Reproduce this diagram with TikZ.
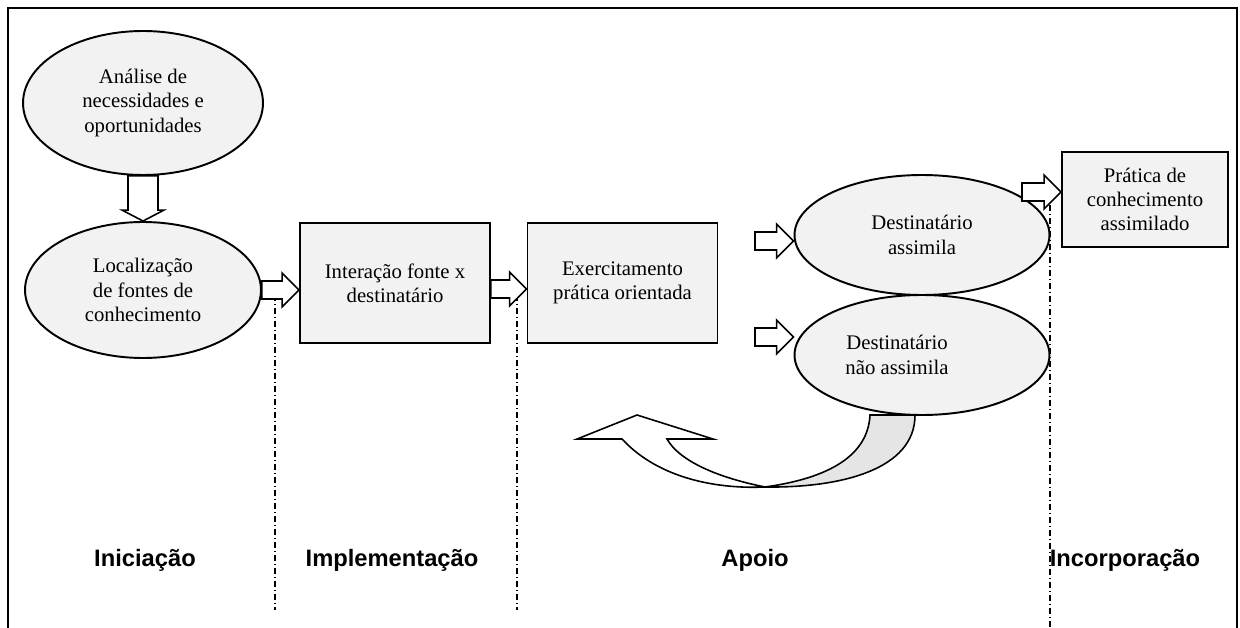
\documentclass[tikz,border=0pt]{standalone}
\usepackage{fontspec}
\setmainfont{Liberation Serif}
\newfontfamily\faseFont{Liberation Sans}
\usetikzlibrary{shapes.geometric,calc}

\begin{document}
\begin{tikzpicture}[x=0.02cm,y=-0.02cm,
    % estilos dos nos
    EllNode/.style={ellipse,draw=black,fill=gray!10,line width=1.1pt,minimum width=5.1cm,minimum height=2.4cm,inner sep=0pt,align=center,font=\fontsize{11.8}{13.8}\selectfont},
    BoxNode/.style={rectangle,draw=black,fill=gray!10,line width=1.1pt,minimum width=3.8cm,minimum height=2.4cm,inner sep=0pt,align=center,font=\fontsize{11.8}{13.8}\selectfont},
    FaseNode/.style={font=\faseFont\bfseries\fontsize{13.5}{15}\selectfont},
    Divisa/.style={line width=0.6pt,dash pattern=on 3.4pt off 1.7pt on 0.6pt off 1.7pt},
    % seta larga: meia largura do corpo, meia largura da ponta, comprimento da ponta
    Seta/.style n args={3}{draw=black,fill=white,line width=0.9pt,line join=miter,
        to path={($(\tikztostart)!#1!90:(\tikztotarget)$)
            -- ($($(\tikztotarget)!#3!(\tikztostart)$)!#1!90:(\tikztotarget)$)
            -- ($($(\tikztotarget)!#3!(\tikztostart)$)!#2!90:(\tikztotarget)$)
            -- (\tikztotarget)
            -- ($($(\tikztotarget)!#3!(\tikztostart)$)!#2!-90:(\tikztotarget)$)
            -- ($($(\tikztotarget)!#3!(\tikztostart)$)!#1!-90:(\tikztotarget)$)
            -- ($(\tikztostart)!#1!-90:(\tikztotarget)$) -- cycle}},
    SetaH/.style={Seta={0.18cm}{0.34cm}{0.34cm}}]

    % area e moldura (aberta embaixo)
    \useasboundingbox (0,0) rectangle (1240,628);
    \draw[line width=0.9pt] (8,628) -- (8,8) -- (1237,8) -- (1237,628);

    % seta curva de retorno
    \filldraw[fill=white,line width=0.9pt] (577,439) -- (622,439) .. controls (660,480) and (720,489) .. (765,487)
        .. controls (720,478) and (680,462) .. (667,439) -- (713,439) -- (637,415) -- cycle;
    \filldraw[fill=gray!20,line width=0.9pt] (870,415) .. controls (868,455) and (830,478) .. (765,487)
        .. controls (840,488) and (915,470) .. (915,415) -- cycle;

    % linhas divisorias das fases
    \foreach \x in {275,517}
        \draw[Divisa] (\x,295) -- (\x,610);
    \draw[Divisa] (1050,205) -- (1050,628);

    % elipses e caixas
    \node[EllNode,minimum width=4.8cm,minimum height=2.88cm] (analise) at (143,103) {Análise de\\necessidades e\\oportunidades};
    \node[EllNode,minimum width=4.72cm,minimum height=2.72cm] (local) at (143,290) {Localização\\de fontes de\\conhecimento};
    \node[BoxNode] (inter) at (395,283) {Interação fonte x\\destinatário};
    \node[BoxNode] (exerc) at (622.5,283) {Exercitamento\\prática orientada};
    \node[EllNode] (assim) at (922,235) {Destinatário\\assimila};
    \node[EllNode] (naoassim) at (922,355) {Destinatário\kern1cm\\não assimila\kern1cm};
    \node[BoxNode,minimum width=3.32cm,minimum height=1.9cm] (pratica) at (1145,199.5) {Prática de\\conhecimento\\assimilado};

    % inicio das setas soltas
    \coordinate (s1) at (755,241);
    \coordinate (s2) at (755,337);
    \coordinate (s3) at (1022,192);
    \coordinate (t0) at ($(inter.east)+(0,6)$);
    \coordinate (t1) at ($(exerc.west)+(0,6)$);

    % setas largas
    \draw[Seta={0.3cm}{0.42cm}{0.22cm}] (analise.south) to (local.north);
    \draw[SetaH] (local.east) to (local.east -| inter.west);
    \draw[SetaH] (t0) to (t1);
    \draw[SetaH] (s1) to (s1 -| assim.west);
    \draw[SetaH] (s2) to (s2 -| naoassim.west);
    \draw[SetaH] (s3) to (s3 -| pratica.west);

    % nomes das fases
    \node[FaseNode] (ini) at (145,560) {Iniciação};
    \node[FaseNode] (imp) at (392,560) {Implementação};
    \node[FaseNode] (apo) at (755,560) {Apoio};
    \node[FaseNode] (inc) at (1125,560) {Incorporação};
\end{tikzpicture}
\end{document}
